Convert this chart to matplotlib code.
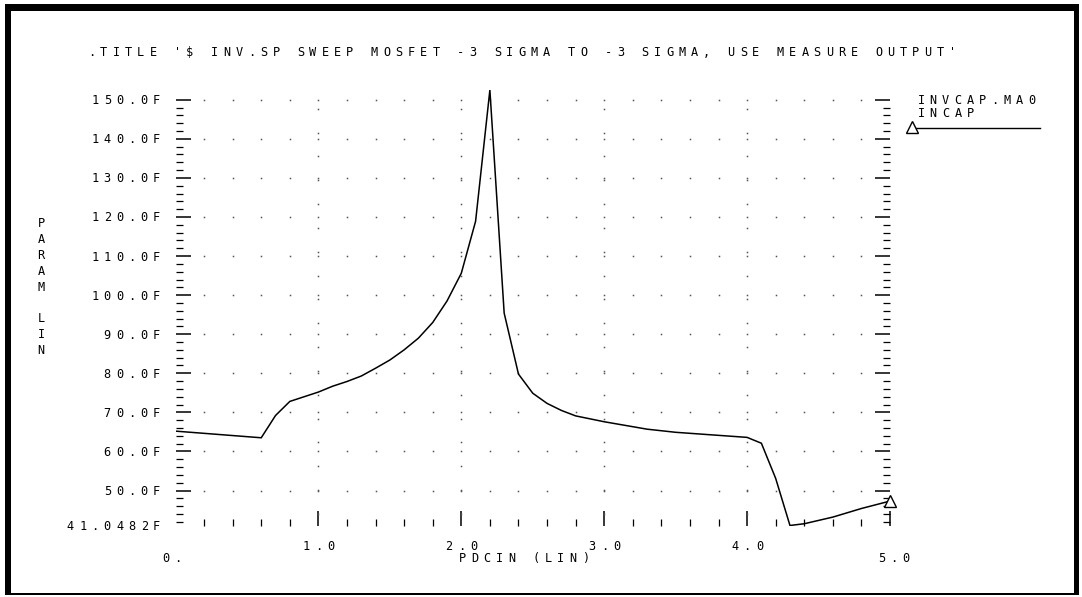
import numpy as np
import matplotlib
matplotlib.use('Agg')
import matplotlib.pyplot as plt
import matplotlib.patches as mpatches
from matplotlib.transforms import offset_copy

# HSPICE sweep of INVCAP.MA0 against PDCIN
pdcin = [0.0, 0.6, 0.7, 0.8, 0.9, 1.0, 1.1, 1.2, 1.3, 1.4, 1.5, 1.6, 1.7,
         1.8, 1.9, 2.0, 2.1, 2.2, 2.3, 2.4, 2.5, 2.6, 2.7, 2.8, 3.0, 3.3,
         3.5, 4.0, 4.1, 4.2, 4.3, 4.4, 4.6, 4.8, 5.0]
incap = [65.2, 63.5, 69.2, 72.8, 74.0, 75.2, 76.7, 77.9, 79.3, 81.3, 83.4,
         86.0, 89.0, 93.0, 98.5, 105.6, 118.9, 152.5, 95.4, 79.8, 74.9,
         72.3, 70.5, 69.1, 67.6, 65.7, 64.9, 63.6, 62.1, 53.1, 41.0482,
         41.5, 43.2, 45.4, 47.3]

title = ".TITLE '$ INV.SP SWEEP MOSFET -3 SIGMA TO -3 SIGMA, USE MEASURE OUTPUT'"
xlabel = 'PDCIN (LIN)'
ylabel = 'PARAM LIN'
legend_name = 'INVCAP.MA0'
legend_sub = 'INCAP'
xmajor = [1.0, 2.0, 3.0, 4.0]
xmajor_labels = ['1.0', '2.0', '3.0', '4.0']
xend_labels = ['0.', '5.0']
ymajor = [50, 60, 70, 80, 90, 100, 110, 120, 130, 140, 150]

W, H, DPI = 1082, 597, 100
PITCH = 12.3  # character cell width in pixels
FONT = dict(family='DejaVu Sans Mono', fontsize=8.6, color='black')


def px(x, y):
    # pixel position (from top-left) -> figure fraction
    return x / W, 1 - y / H


def spaced(fig, trans, x, y, s, align='left', dx=0, dy=0):
    # draw a string one character per fixed cell, like a plotter font
    span = (len(s) - 1) * PITCH
    start = {'left': 0, 'right': -span, 'center': -span / 2}[align]
    for i, c in enumerate(s):
        if c == ' ':
            continue
        tr = offset_copy(trans, fig=fig, x=dx + start + i * PITCH, y=dy,
                         units='dots')
        fig.text(x, y, c, transform=tr, ha='center', va='baseline', **FONT)


fig = plt.figure(figsize=(W / DPI, H / DPI), dpi=DPI)

x0, y0 = px(175.5, 525.5)
x1, y1 = px(890, 90)
ax = fig.add_axes([x0, y0, x1 - x0, y1 - y0])
ax.set_xlim(0, 5)
ax.set_ylim(min(incap), max(incap))
for s in ax.spines.values():
    s.set_visible(False)

# dotted grid along the major lines
xdots = np.arange(0.2, 5.0, 0.2)
for yv in ymajor:
    ax.plot(xdots, [yv] * len(xdots), ls='none', marker='s', ms=1.1,
            mec='none', mfc='#555555')
ydots = np.arange(44, 152, 6.1)
for xv in xmajor:
    ax.plot([xv] * len(ydots), ydots, ls='none', marker='s', ms=1.1,
            mec='none', mfc='#555555')

ax.plot(pdcin, incap, color='black', lw=1.1, solid_joinstyle='miter')
ax.plot(pdcin[-1], incap[-1], marker='^', ms=8, mfc='white', mec='black',
        mew=1.0, clip_on=False)

ax.set_xticks(xmajor + [5.0])
ax.set_xticks(np.arange(0.2, 5.0, 0.2), minor=True)
ax.set_yticks(ymajor)
ax.set_yticks(np.arange(42, 152, 2), minor=True)
ax.tick_params(which='both', direction='in', labelleft=False,
               labelbottom=False, left=True, right=True, bottom=True,
               top=False, color='black')
ax.tick_params(which='major', length=11, width=1.1)
ax.tick_params(which='minor', length=5, width=0.9)

# y tick labels, right aligned in front of the ticks
ytr = ax.get_yaxis_transform()
for yv in ymajor:
    spaced(fig, ytr, 0, yv, '%.1fF' % yv, align='right', dx=-19, dy=-4.5)
spaced(fig, ytr, 0, min(incap), '%.4fF' % min(incap), align='right',
       dx=-19, dy=-4.5)

# x tick labels; the end points sit one row lower
xtr = ax.get_xaxis_transform()
for xv, lab in zip(xmajor, xmajor_labels):
    spaced(fig, xtr, xv, 0, lab, align='center', dy=-24)
spaced(fig, xtr, 0, 0, xend_labels[0], align='center', dx=-3.5, dy=-36)
spaced(fig, xtr, 5, 0, xend_labels[1], align='center', dx=4, dy=-36)

# axis labels
spaced(fig, fig.transFigure, *px(524, 562), xlabel, align='center')
for i, c in enumerate(ylabel):
    if c != ' ':
        fig.text(*px(41, 227 + i * 15.9), c, ha='center', va='baseline',
                 **FONT)

# title
spaced(fig, fig.transFigure, *px(91.5, 56), title, align='left')

# legend block at the right
spaced(fig, fig.transFigure, *px(921, 104), legend_name, align='left')
spaced(fig, fig.transFigure, *px(921, 117), legend_sub, align='left')
fig.add_artist(plt.Line2D([px(915, 0)[0], px(1040, 0)[0]],
                          [px(0, 127.5)[1]] * 2, color='black', lw=1.0))
fig.add_artist(plt.Line2D([px(911.5, 0)[0]], [px(0, 127)[1]], marker='^',
                          ms=8, mfc='white', mec='black', mew=1.0))

# window frame
for (fx, fy, fw, fh) in [(5, 4, 1074, 7), (5, 4, 6, 591), (1074, 4, 5, 591),
                         (5, 593, 1074, 2)]:
    bx, by = px(fx, fy + fh)
    fig.add_artist(mpatches.Rectangle((bx, by), fw / W, fh / H,
                                      transform=fig.transFigure,
                                      color='black', lw=0))

fig.savefig('out.png', dpi=DPI, facecolor='white')
